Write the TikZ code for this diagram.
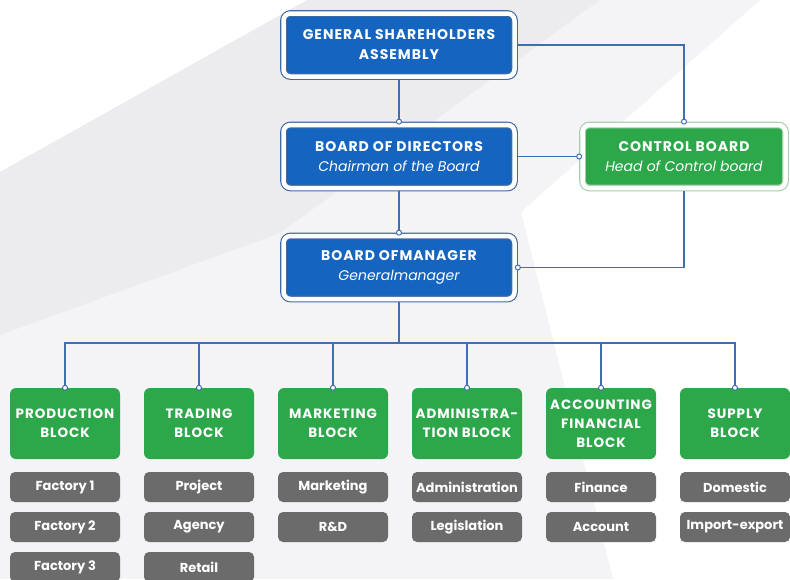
\documentclass[tikz,border=0pt]{standalone}
\usepackage{fontspec}
\setmainfont{Poppins}
\newfontfamily\capsfont[LetterSpace=7]{Poppins}
\usepackage{tikz}
\usetikzlibrary{positioning}
\definecolor{bluefill}{HTML}{1565C0}
\definecolor{blueframe}{HTML}{3F6A9E}
\definecolor{linkblue}{HTML}{3F6FAE}
\definecolor{greenfill}{HTML}{2CA84B}
\definecolor{greenframe}{HTML}{A3CFAB}
\definecolor{grayfill}{HTML}{6B6B6B}
\definecolor{bgband}{HTML}{ECECEF}
\definecolor{bglight}{HTML}{F4F4F6}
\tikzset{link/.style={ % Connectors between the boxes
    draw=linkblue,
    line width=1.1pt}}

\begin{document}
\begin{tikzpicture}[
            x=1pt, y=-1pt,
            mainbox/.style={rectangle, rounded corners=7pt, fill=bluefill, draw=blueframe, double=white, double distance=4.5pt, line width=1.1pt, minimum width=231pt, minimum height=63pt, outer sep=3.35pt, inner sep=1pt, text=white, align=center, font=\fontsize{14}{20}\selectfont\capsfont\bfseries},
            ctrlbox/.style={mainbox, fill=greenfill, draw=greenframe, minimum width=203pt},
            block/.style={rectangle, rounded corners=6pt, fill=greenfill, minimum width=110pt, minimum height=71pt, inner sep=1pt, text=white, align=center, font=\fontsize{13.5}{19}\selectfont\capsfont\bfseries},
            item/.style={rectangle, rounded corners=5pt, fill=grayfill, minimum width=110pt, minimum height=30pt, inner sep=1pt, text=white, font=\fontsize{13}{15}\selectfont\bfseries},
            dot/.style={circle, draw=linkblue, fill=white, line width=1pt, inner sep=0pt, minimum size=5pt}
        ]
        \useasboundingbox (0,0) rectangle (790,579);

        % Background
        \fill[white] (0,0) rectangle (790,579);
        \fill[bglight] (0,335) -- (470,0) -- (760,0) -- (521,212) -- (613,579) -- (0,579) -- cycle;
        \fill[bgband] (0,172) -- (307,0) -- (600,0) -- (280,233) -- (0,335) -- cycle;

        % Top management
        \node[mainbox] (gsa) at (399,45) {GENERAL SHAREHOLDERS\\ASSEMBLY};
        \node[mainbox] (bod) at (399,156.5) {BOARD OF DIRECTORS\\{\normalfont\itshape Chairman of the Board}};
        \node[mainbox] (bom) at (399,267.5) {BOARD OFMANAGER\\{\normalfont\itshape Generalmanager}};
        \node[ctrlbox] (cb) at (684,156.5) {CONTROL BOARD\\{\normalfont\itshape Head of Control board}};

        % Blocks
        \node[block] (prod) at (65,423.5) {PRODUCTION\\BLOCK};
        \node[block] (trad) at (199,423.5) {TRADING\\BLOCK};
        \node[block] (mark) at (333,423.5) {MARKETING\\BLOCK};
        \node[block] (admin) at (467,423.5) {ADMINISTRA-\\TION BLOCK};
        \node[block] (acc) at (601,423.5) {ACCOUNTING\\FINANCIAL\\BLOCK};
        \node[block] (supp) at (735,423.5) {SUPPLY\\BLOCK};

        % Departments
        \node[item] (fac1) at (65,487) {Factory 1};
        \node[item] (fac2) at (65,527) {Factory 2};
        \node[item] (fac3) at (65,567) {Factory 3};
        \node[item] (proj) at (199,487) {Project};
        \node[item] (agen) at (199,527) {Agency};
        \node[item] (ret) at (199,567) {Retail};
        \node[item] (mkt) at (333,487) {Marketing};
        \node[item] (rnd) at (333,527) {R\&D};
        \node[item] (adm) at (467,487) {Administration};
        \node[item] (leg) at (467,527) {Legislation};
        \node[item] (fin) at (601,487) {Finance};
        \node[item] (acct) at (601,527) {Account};
        \node[item] (dom) at (735,487) {Domestic};
        \node[item] (imp) at (735,527) {Import-export};

        % Connections
        \draw[link] (gsa) -- (bod) node[dot, pos=1] {};
        \draw[link] (bod) -- (bom) node[dot, pos=1] {};
        \draw[link] (gsa.east) -| (cb.north) node[dot, pos=1] {};
        \draw[link] (bod.east) -- (cb.west) node[dot, pos=1] {};
        \draw[link] (cb.south) |- (bom.east) node[dot, pos=1] {};

        % Tree to the blocks
        \coordinate (bus) at (399,343);
        \draw[link] (bom) -- (bus);
        \draw[link] (bus) -| (prod.north) node[dot, pos=1] {};
        \draw[link] (bus) -| (trad.north) node[dot, pos=1] {};
        \draw[link] (bus) -| (mark.north) node[dot, pos=1] {};
        \draw[link] (bus) -| (admin.north) node[dot, pos=1] {};
        \draw[link] (bus) -| (acc.north) node[dot, pos=1] {};
        \draw[link] (bus) -| (supp.north) node[dot, pos=1] {};

    \end{tikzpicture}
\end{document}
